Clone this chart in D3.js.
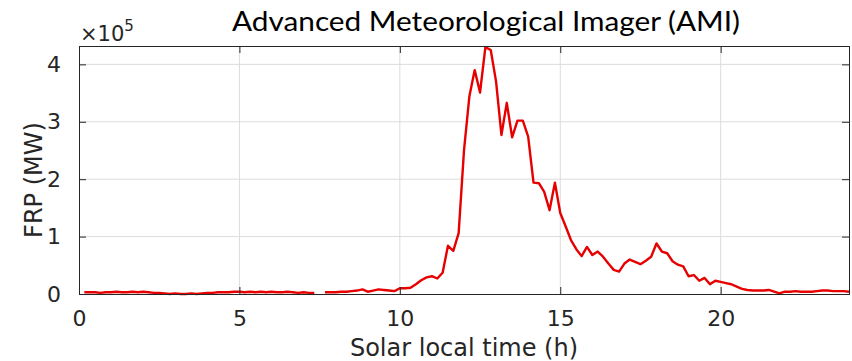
<!DOCTYPE html>
<html>
<head>
<meta charset="utf-8">
<script src="https://cdn.jsdelivr.net/npm/d3@7"></script>
<style>
  html, body { margin: 0; padding: 0; background: #fff; }
  svg { display: block; }
</style>
</head>
<body>
<svg id="chart" width="852" height="361"></svg>
<script>
// solar local time, minutes after midnight (10-min sampling)
const minutes = [
  10, 20, 30, 40, 50, 60, 70, 80, 90, 100, 110, 120,
  130, 140, 150, 160, 170, 180, 190, 200, 210, 220, 230, 240,
  250, 260, 270, 280, 290, 300, 310, 320, 330, 340, 350, 360,
  370, 380, 390, 400, 410, 420, 430, 440, 450, 460, 470, 480,
  490, 500, 510, 520, 530, 540, 550, 560, 570, 580, 590, 600,
  610, 620, 630, 640, 650, 660, 670, 680, 690, 700, 710, 720,
  730, 740, 750, 760, 770, 780, 790, 800, 810, 820, 830, 840,
  850, 860, 870, 880, 890, 900, 910, 920, 930, 940, 950, 960,
  970, 980, 990, 1000, 1010, 1020, 1030, 1040, 1050, 1060, 1070, 1080,
  1090, 1100, 1110, 1120, 1130, 1140, 1150, 1160, 1170, 1180, 1190, 1200,
  1210, 1220, 1230, 1240, 1250, 1260, 1270, 1280, 1290, 1300, 1310, 1320,
  1330, 1340, 1350, 1360, 1370, 1380, 1390, 1400, 1410, 1420, 1430, 1440
];
// FRP in units of 1e5 MW (null = missing)
const frp = [
  0.03, 0.03, 0.03, 0.02, 0.03, 0.03, 0.04, 0.03, 0.03, 0.04, 0.03, 0.04,
  0.03, 0.02, 0.02, 0.01, 0.00, 0.01, 0.00, 0.00, 0.01, 0.00, 0.01, 0.02,
  0.02, 0.03, 0.03, 0.03, 0.04, 0.04, 0.03, 0.04, 0.03, 0.04, 0.03, 0.04,
  0.03, 0.03, 0.04, 0.03, 0.02, 0.03, 0.02, 0.02, null, 0.03, 0.03, 0.03,
  0.04, 0.04, 0.05, 0.06, 0.08, 0.04, 0.06, 0.08, 0.07, 0.06, 0.05, 0.10,
  0.10, 0.11, 0.17, 0.24, 0.29, 0.31, 0.27, 0.37, 0.84, 0.75, 1.06, 2.50,
  3.44, 3.90, 3.51, 4.30, 4.25, 3.70, 2.77, 3.33, 2.73, 3.02, 3.02, 2.74,
  1.94, 1.93, 1.78, 1.46, 1.94, 1.41, 1.18, 0.94, 0.78, 0.66, 0.82, 0.68,
  0.74, 0.65, 0.53, 0.42, 0.39, 0.53, 0.60, 0.56, 0.52, 0.58, 0.65, 0.88,
  0.74, 0.71, 0.57, 0.51, 0.48, 0.31, 0.33, 0.23, 0.28, 0.17, 0.23, 0.21,
  0.19, 0.17, 0.13, 0.09, 0.07, 0.06, 0.06, 0.06, 0.07, 0.04, 0.01, 0.04,
  0.04, 0.05, 0.04, 0.04, 0.04, 0.05, 0.06, 0.06, 0.05, 0.05, 0.05, 0.04
];
const xTicks = [0, 5, 10, 15, 20];
const yTicks = [0, 1, 2, 3, 4];

const titleText = "Advanced Meteorological Imager (AMI)";
const xLabel = "Solar local time (h)";
const yLabel = "FRP (MW)";

const margin = {top: 46, right: 3, bottom: 67, left: 79};
const W = 852, H = 361;
const w = W - margin.left - margin.right;
const h = H - margin.top - margin.bottom;
const axisCol = "#262626";
const tickFont = "'DejaVu Sans', sans-serif";

const svg = d3.select("#chart");
const g = svg.append("g").attr("transform", `translate(${margin.left},${margin.top})`);

const x = d3.scaleLinear().domain([0, 24]).range([0, w]);
const y = d3.scaleLinear().domain([0, 4.32]).range([h, 0]);

// grid
g.append("g").selectAll("line").data(xTicks.slice(1)).join("line")
  .attr("x1", d => x(d)).attr("x2", d => x(d))
  .attr("y1", 0).attr("y2", h)
  .attr("stroke", "#dcdcdc").attr("stroke-width", 1);
g.append("g").selectAll("line").data(yTicks.slice(1)).join("line")
  .attr("y1", d => y(d)).attr("y2", d => y(d))
  .attr("x1", 0).attr("x2", w)
  .attr("stroke", "#dcdcdc").attr("stroke-width", 1);

// data line
const pts = minutes.map((m, i) => ({t: m / 60, v: frp[i]}));
const line = d3.line()
  .defined(d => d.v !== null)
  .x(d => x(d.t)).y(d => y(d.v));
g.append("path").datum(pts)
  .attr("d", line)
  .attr("fill", "none")
  .attr("stroke", "#e60000")
  .attr("stroke-width", 2.4)
  .attr("stroke-linejoin", "round");

// axes (ticks inside, MATLAB-like box)
const tl = 7;
const xAxis = g.append("g").attr("transform", `translate(0,${h})`)
  .call(d3.axisBottom(x).tickValues(xTicks).tickSize(-tl).tickPadding(tl + 9).tickFormat(d3.format("d")));
const yAxis = g.append("g")
  .call(d3.axisLeft(y).tickValues(yTicks).tickSize(-tl).tickPadding(tl + 11).tickFormat(d3.format("d")));
const xTop = g.append("g")
  .call(d3.axisTop(x).tickValues(xTicks).tickSize(-tl).tickFormat(""));
const yRight = g.append("g").attr("transform", `translate(${w},0)`)
  .call(d3.axisRight(y).tickValues(yTicks).tickSize(-tl).tickFormat(""));

[xAxis, yAxis, xTop, yRight].forEach(a => {
  a.select(".domain").attr("stroke", axisCol).attr("stroke-width", 1);
  a.selectAll(".tick line").attr("stroke", axisCol).attr("stroke-width", 1);
  a.selectAll(".tick text").attr("fill", axisCol)
    .style("font-family", tickFont).style("font-size", "22px");
});

// exponent label
const ex = svg.append("text")
  .attr("x", margin.left + 1).attr("y", 41)
  .attr("fill", axisCol)
  .style("font-family", tickFont).style("font-size", "21px");
ex.append("tspan").text("\u00d710");
ex.append("tspan").attr("dy", -10).style("font-size", "15px").text("5");

// axis labels
svg.append("text")
  .attr("x", margin.left + w / 2).attr("y", 356)
  .attr("text-anchor", "middle")
  .attr("fill", axisCol)
  .style("font-family", tickFont).style("font-size", "24px")
  .text(xLabel);
svg.append("text")
  .attr("transform", "translate(42,180) rotate(-90)")
  .attr("text-anchor", "middle")
  .attr("fill", axisCol)
  .style("font-family", tickFont).style("font-size", "24px")
  .text(yLabel);

// title
svg.append("text")
  .attr("x", 486).attr("y", 31)
  .attr("text-anchor", "middle")
  .attr("fill", "#000")
  .attr("textLength", 508).attr("lengthAdjust", "spacingAndGlyphs")
  .style("font-family", "Lato, 'Open Sans', sans-serif").style("font-size", "26px")
  .text(titleText);
</script>
</body>
</html>
